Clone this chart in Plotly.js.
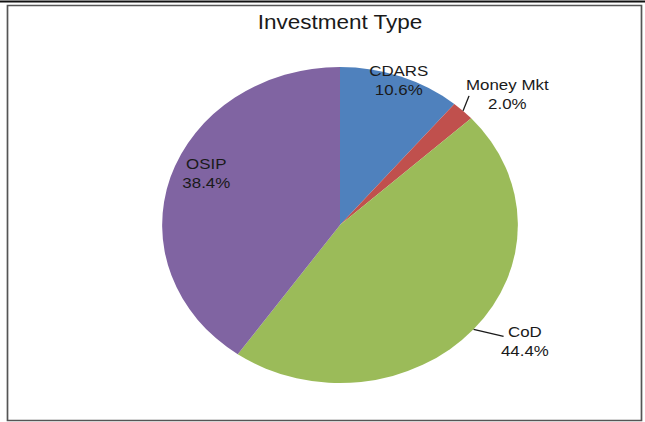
<!DOCTYPE html>
<html>
<head>
<meta charset="utf-8">
<script src="https://cdn.plot.ly/plotly-3.0.1.min.js"></script>
<style>
  html, body { margin: 0; padding: 0; background: #ffffff; overflow: hidden; width: 645px; height: 422px; }
  #chart { width: 573px; height: 422px; transform-origin: 0 0; }
</style>
</head>
<body>
<div id="chart"></div>
<script>
// ---- data ----
const categories = ["CDARS", "Money Mkt", "CoD", "OSIP"];
const shares = [10.6, 2.0, 44.4, 38.4];

// ---- styling / placement ----
const sliceColors = ["#4F81BD", "#C0504D", "#9BBB59", "#8064A2"];
const FULL_W = 645, H = 422, W0 = 573;
const S = FULL_W / W0;               // horizontal stretch of the reference
document.getElementById("chart").style.transform = "scaleX(" + S + ")";

const cx0 = 340 / S, cy = 225, r = 158;   // pie centre/radius in unstretched px
// label placement style per slice: inside -> radial factor (+ nudge); outside -> leader/text offsets (stretched px)
const labelStyle = [
  { mode: "inside", rf: 0.97, nudge: [0, 0] },
  { mode: "outside", lead: [6, -15], text: [45, -16] },
  { mode: "outside", lead: [30, 7], text: [52, 12] },
  { mode: "inside", rf: 0.83, nudge: [7, -12] }
];

const fontFam = "Liberation Sans, Arial, sans-serif";
const px2x = p => p / W0;
const py2y = p => 1 - p / H;

const total = shares.reduce((a, b) => a + b, 0);
let cum = 0;
const annotations = [];
const shapes = [
  { type: "rect", xref: "paper", yref: "paper",
    x0: px2x(7.5 / S), x1: px2x(641.5 / S), y0: py2y(420.5), y1: py2y(5.5),
    line: { color: "#555555", width: 1.5 } },
  { type: "line", xref: "paper", yref: "paper",
    x0: 0, x1: 1, y0: py2y(1.5), y1: py2y(1.5),
    line: { color: "#111111", width: 2 } }
];

categories.forEach((cat, i) => {
  const a0 = cum / total * 2 * Math.PI;
  cum += shares[i];
  const a1 = cum / total * 2 * Math.PI;
  const mid = (a0 + a1) / 2;
  const txt = cat + "<br>" + shares[i].toFixed(1) + "%";
  const st = labelStyle[i];
  if (st.mode === "inside") {
    const x = cx0 + st.rf * r * Math.sin(mid) + st.nudge[0] / S;
    const y = cy - st.rf * r * Math.cos(mid) + st.nudge[1];
    annotations.push({ xref: "paper", yref: "paper", x: px2x(x), y: py2y(y),
      xanchor: "center", yanchor: "middle", showarrow: false, text: txt,
      font: { family: fontFam, size: 15, color: "#1a1a1a" } });
  } else {
    const ex = cx0 + r * Math.sin(mid);
    const ey = cy - r * Math.cos(mid);
    shapes.push({ type: "line", xref: "paper", yref: "paper",
      x0: px2x(ex), y0: py2y(ey),
      x1: px2x(ex + st.lead[0] / S), y1: py2y(ey + st.lead[1]),
      line: { color: "#1a1a1a", width: 1.2 } });
    annotations.push({ xref: "paper", yref: "paper",
      x: px2x(ex + st.text[0] / S), y: py2y(ey + st.text[1]),
      xanchor: "center", yanchor: "middle", showarrow: false, text: txt,
      font: { family: fontFam, size: 15, color: "#1a1a1a" } });
  }
});

const trace = {
  type: "pie",
  labels: categories,
  values: shares,
  sort: false,
  direction: "clockwise",
  rotation: 0,
  marker: { colors: sliceColors, line: { width: 0 } },
  textinfo: "none",
  hoverinfo: "label+value",
  domain: { x: [px2x(cx0 - r), px2x(cx0 + r)], y: [py2y(cy + r), py2y(cy - r)] },
  showlegend: false
};

const layout = {
  width: W0, height: H,
  margin: { l: 0, r: 0, t: 0, b: 0 },
  paper_bgcolor: "#ffffff",
  showlegend: false,
  title: {
    text: "Investment Type",
    font: { family: fontFam, size: 20, color: "#1a1a1a" },
    x: px2x(cx0), xanchor: "center",
    y: py2y(22), yanchor: "middle"
  },
  shapes: shapes,
  annotations: annotations
};

Plotly.newPlot("chart", [trace], layout, { displayModeBar: false, staticPlot: true });
</script>
</body>
</html>
